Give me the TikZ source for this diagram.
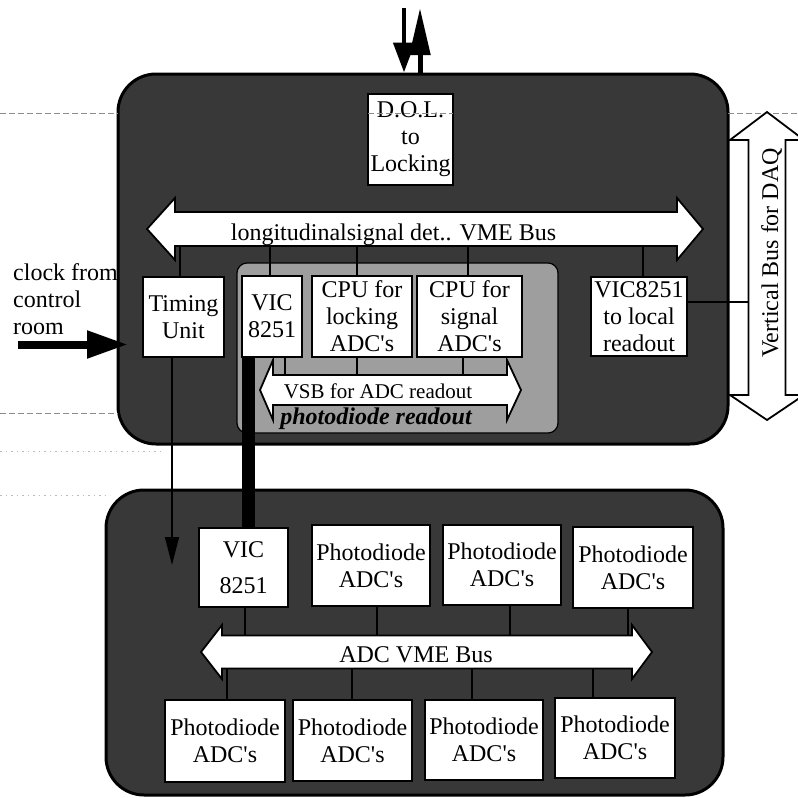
\documentclass[tikz,border=0pt]{standalone}
\usepackage{fontspec}
\setmainfont{Liberation Serif}
\usetikzlibrary{arrows.meta}

\definecolor{panel}{gray}{0.22}
\definecolor{subpanel}{gray}{0.62}
\definecolor{scanline}{gray}{0.55}

\newcommand{\aps}{\textquotesingle}
% horizontal two-headed bus: left tip x, left head base x, right head base x,
% right tip x, centre y, half shaft width, half head width
\newcommand{\hbus}[7]{%
  \filldraw[busarrow] ({#1},{#5}) -- ({#2},{#5-#7}) -- ({#2},{#5-#6}) -- ({#3},{#5-#6})
    -- ({#3},{#5-#7}) -- ({#4},{#5}) -- ({#3},{#5+#7}) -- ({#3},{#5+#6})
    -- ({#2},{#5+#6}) -- ({#2},{#5+#7}) -- cycle;}

\tikzset{
  box/.style={draw=black, line width=1.6pt, fill=white, inner sep=0pt, align=center,
    font=\fontsize{24}{27}\selectfont},
  panelbox/.style={draw=black, line width=3pt, fill=panel, rounded corners=38pt, inner sep=0pt},
  busarrow/.style={draw=black, line width=1.8pt, fill=white, line join=miter},
  buslabel/.style={inner sep=0pt, font=\fontsize{24}{27}\selectfont},
  wire/.style={draw=black, line width=1.6pt},
  scan/.style={draw=scanline, line width=0.8pt, dash pattern=on 6pt off 3pt},
  scandot/.style={draw=scanline!60, line width=0.7pt, dash pattern=on 1.5pt off 4pt},
}

\begin{document}
\begin{tikzpicture}[x=1pt, y=-1pt]
\useasboundingbox (0,0) rectangle (798,798);

% ---- crate panels ----
\node[panelbox, minimum width=610pt, minimum height=370pt] (locbox) at (423,259) {};
\node[panelbox, minimum width=617pt, minimum height=305pt] (adcbox) at (414.5,642.5) {};

% faint ruling lines of the page
\draw[scan] (0,113) -- (118,113);
\draw[scan] (728,113) -- (798,113);
\draw[scan] (0,413) -- (118,413);
\draw[scandot] (0,451) -- (160,451);
\draw[scandot] (0,495) -- (110,495);

% ---- photodiode readout sub-crate ----
\node[draw=black, line width=1.2pt, fill=subpanel, rounded corners=10pt,
      minimum width=321pt, minimum height=170pt, inner sep=0pt] (readout) at (397.5,348) {};

% ---- buses ----
\hbus{147}{175}{677}{703}{229}{17}{31}
\node[buslabel, anchor=base] (vme) at (393.5,240) {longitudinalsignal det.. VME Bus};
\coordinate (vmeS) at (0,246);

\hbus{260}{273}{507}{521}{390}{15}{30}
\node[buslabel, anchor=base, font=\fontsize{21}{24}\selectfont] (vsb) at (378,398) {VSB for ADC readout};
\node[buslabel, anchor=base, font=\fontsize{24}{27}\selectfont\bfseries\itshape] (pdro) at (376,424) {photodiode readout};
\coordinate (vsbN) at (0,375);

\hbus{201}{222}{632}{652}{652}{16.5}{27}
\node[buslabel, anchor=base] (adcvme) at (416,662) {ADC VME Bus};
\coordinate (adcN) at (0,635.5);
\coordinate (adcS) at (0,668.5);

% vertical DAQ bus
\filldraw[busarrow] (767,112) -- (730,140) -- (748.5,140) -- (748.5,395) -- (730,395)
  -- (767,420) -- (804,395) -- (785.5,395) -- (785.5,140) -- (804,140) -- cycle;
\node[buslabel, anchor=base, rotate=90] (daq) at (778,253) {Vertical Bus for DAQ};
\coordinate (daqL) at (748.5,302);

% ---- modules in the locking/signal crate ----
\node[box, minimum width=85pt, minimum height=91pt] (dol) at (410.5,139.5) {D.O.L.\\to\\Locking};
\draw[scan] (368,113) -- (453,113);
\node[box, minimum width=81pt, minimum height=80pt] (timing) at (183.5,317) {Timing\\Unit};
\node[box, minimum width=60pt, minimum height=81pt] (vic1) at (272,316.5) {VIC\\8251};
\node[box, minimum width=100pt, minimum height=81pt] (cpulock) at (362,316.5) {CPU for\\locking\\ADC\aps s};
\node[box, minimum width=105pt, minimum height=81pt] (cpusig) at (469.5,316.5) {CPU for\\signal\\ADC\aps s};
\node[box, minimum width=96pt, minimum height=79pt] (viclocal) at (639,316.5) {VIC8251\\to local\\readout};

% ---- modules in the ADC crate ----
\node[box, minimum width=89pt, minimum height=79pt] (vic2) at (243.5,567.5) {VIC\\[9pt]8251};
\node[box, minimum width=118pt, minimum height=81pt] (pd1) at (371,565.5) {Photodiode\\ADC\aps s};
\node[box, minimum width=118pt, minimum height=80pt] (pd2) at (502,565) {Photodiode\\ADC\aps s};
\node[box, minimum width=120pt, minimum height=81pt] (pd3) at (633,567.5) {Photodiode\\ADC\aps s};
\node[box, minimum width=120pt, minimum height=82pt] (pd4) at (225,741) {Photodiode\\ADC\aps s};
\node[box, minimum width=119pt, minimum height=81pt] (pd5) at (352.5,740.5) {Photodiode\\ADC\aps s};
\node[box, minimum width=118pt, minimum height=80pt] (pd6) at (484,740) {Photodiode\\ADC\aps s};
\node[box, minimum width=120pt, minimum height=80pt] (pd7) at (615,738) {Photodiode\\ADC\aps s};

% ---- bus taps ----
\foreach \n/\x in {timing/180, vic1/270, cpulock/357, cpusig/468, viclocal/643} {
  \coordinate (t) at (\x,0);
  \draw[wire] (t |- vmeS) -- (t |- \n.north);
}
\foreach \n/\x in {vic1/285, cpulock/357, cpusig/463} {
  \coordinate (t) at (\x,0);
  \draw[wire] (t |- \n.south) -- (t |- vsbN);
}
\foreach \n/\x in {vic2/245, pd1/377, pd2/510, pd3/628} {
  \coordinate (t) at (\x,0);
  \draw[wire] (t |- \n.south) -- (t |- adcN);
}
\foreach \n/\x in {pd4/227, pd5/352, pd6/472, pd7/593} {
  \coordinate (t) at (\x,0);
  \draw[wire] (t |- adcS) -- (t |- \n.north);
}
\draw[wire] (viclocal.east |- daqL) -- (daqL);

% ---- links between crates ----
\coordinate (vlink) at (248,0);
\draw[line width=13pt] (vlink |- vic1.south) -- (vlink |- vic2.north);
\coordinate (tclk) at (172,565);
\draw[line width=1.4pt, -{Triangle[length=28pt,width=14pt]}] (tclk |- timing.south) -- (tclk);

% ---- D.O.L. link to the locking system ----
\coordinate (dolin) at (404,8);
\coordinate (dolout) at (420,8);
\draw[line width=4.5pt, -{Triangle[length=30pt,width=21pt]}] (dolin) -- (dolin |- locbox.north);
\draw[line width=5pt, -{Triangle[length=47pt,width=20pt]}] (dolout |- locbox.north) -- (dolout);

% ---- external clock ----
\node[anchor=west, inner sep=0pt, align=left, font=\fontsize{24}{27}\selectfont] (clock) at (13,299.5) {clock from\\control\\room};
\coordinate (clkin) at (18,344.5);
\coordinate (clktip) at (128,344.5);
\draw[line width=8pt, -{Triangle[length=41pt,width=26pt]}] (clkin) -- (clktip);

\end{tikzpicture}
\end{document}
